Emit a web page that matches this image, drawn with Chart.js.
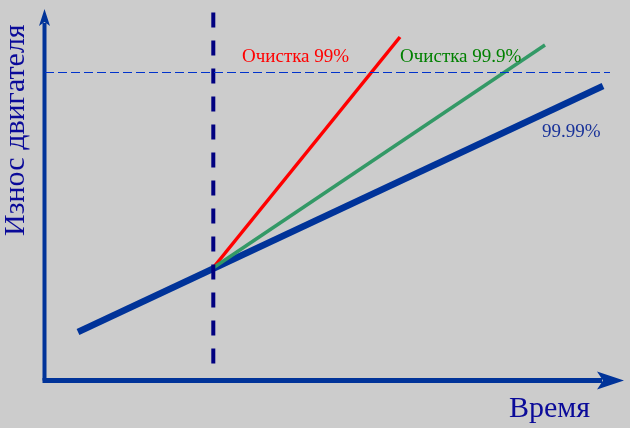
<!DOCTYPE html>
<html><head><meta charset="utf-8">
<script src="https://cdn.jsdelivr.net/npm/chart.js@4"></script>
<style>html,body{margin:0;padding:0;background:#cccccc;}#wrap{width:630px;height:428px;}</style>
</head><body><div id="wrap"><canvas id="c" width="630" height="428"></canvas></div>
<script>
// Time / wear units (schematic)
const blueLine = [{x:78,y:96},{x:603,y:342}];      // Очистка 99.99%
const redLine = [{x:213,y:160},{x:400,y:391}];     // Очистка 99%
const greenLine = [{x:213,y:160},{x:545,y:383}];   // Очистка 99.9%
const vDash = [{x:213.3,y:415.5},{x:213.3,y:64}];
const hDash = [{x:45,y:355.5},{x:610,y:355.5}];
const labels = ["Очистка 99%","Очистка 99.9%","99.99%"];
const axisTitles = ["Износ двигателя","Время"];

const axisColor = "#003399";
const overlay = {
  id:"overlay",
  beforeDatasetsDraw(chart){
    const {ctx, scales:{x,y}} = chart;
    const ox = x.getPixelForValue(44.5), oy = y.getPixelForValue(47.5);
    const tx = x.getPixelForValue(624), ty = y.getPixelForValue(419);
    ctx.save();
    ctx.strokeStyle = axisColor; ctx.fillStyle = axisColor;
    ctx.lineWidth = 5;
    ctx.beginPath(); ctx.moveTo(ox-2, oy); ctx.lineTo(tx-22, oy); ctx.stroke();
    ctx.lineWidth = 4;
    ctx.beginPath(); ctx.moveTo(ox, oy); ctx.lineTo(ox, ty+14); ctx.stroke();
    // arrow heads
    ctx.beginPath(); ctx.moveTo(tx, oy); ctx.lineTo(tx-27, oy-9); ctx.lineTo(tx-21, oy); ctx.lineTo(tx-27, oy+9); ctx.closePath(); ctx.fill();
    ctx.beginPath(); ctx.moveTo(ox, ty); ctx.lineTo(ox-5.5, ty+17); ctx.lineTo(ox, ty+13); ctx.lineTo(ox+5.5, ty+17); ctx.closePath(); ctx.fill();
    ctx.restore();
  },
  afterDatasetsDraw(chart){
    const {ctx} = chart;
    ctx.save();
    ctx.textBaseline = "alphabetic";
    ctx.font = "19px 'Liberation Serif', serif";
    ctx.fillStyle = "#ff0000"; ctx.fillText(labels[0], 242, 62);
    ctx.fillStyle = "#008000"; ctx.fillText(labels[1], 400, 62);
    ctx.fillStyle = "#1a3399"; ctx.fillText(labels[2], 542, 137);
    ctx.fillStyle = "#0a0a99";
    ctx.font = "30px 'Liberation Serif', serif";
    ctx.fillText(axisTitles[1], 509, 417);
    ctx.translate(24, 236); ctx.rotate(-Math.PI/2);
    ctx.fillText(axisTitles[0], 0, 0);
    ctx.restore();
  }
};

new Chart(document.getElementById("c"), {
  type:"scatter",
  data:{datasets:[
    {data:hDash, showLine:true, borderColor:"#0033cc", borderWidth:1, borderDash:[9,4], pointRadius:0},
    {data:vDash, showLine:true, borderColor:"#000080", borderWidth:4, borderDash:[15,13], pointRadius:0},
    {data:greenLine, showLine:true, borderColor:"#339966", borderWidth:3.5, pointRadius:0},
    {data:redLine, showLine:true, borderColor:"#ff0000", borderWidth:3.5, pointRadius:0},
    {data:blueLine, showLine:true, borderColor:"#003399", borderWidth:6.5, pointRadius:0}
  ]},
  options:{
    responsive:false, animation:false, events:[],
    layout:{padding:0},
    plugins:{legend:{display:false}, tooltip:{enabled:false}},
    scales:{
      x:{type:"linear", min:0, max:630, display:false},
      y:{type:"linear", min:0, max:428, display:false}
    }
  },
  plugins:[overlay]
});
</script></body></html>
